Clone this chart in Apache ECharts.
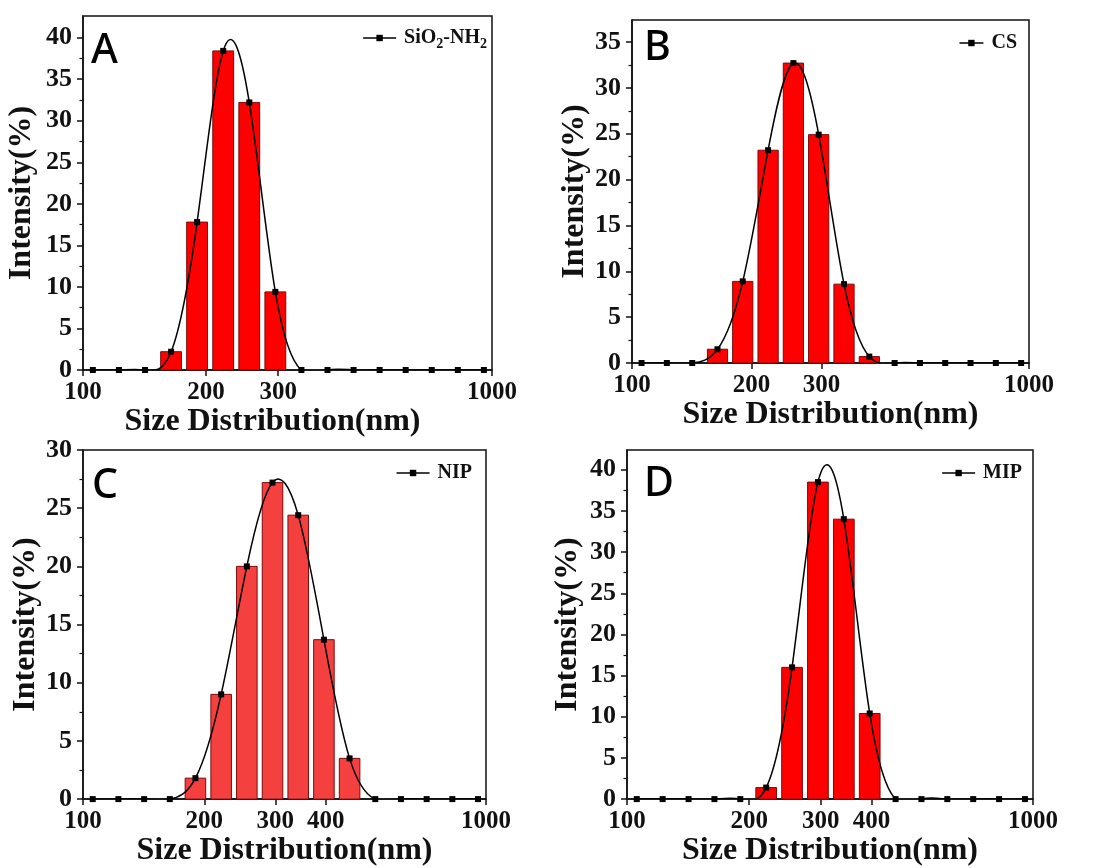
<!DOCTYPE html>
<html>
<head>
<meta charset="utf-8">
<script src="https://cdn.jsdelivr.net/npm/echarts@6/dist/echarts.min.js"></script>
<style>
  html, body { margin: 0; padding: 0; background: #fff; }
  #chart { width: 1100px; height: 868px; }
</style>
</head>
<body>
<div id="chart"></div>
<script>
// DLS size classes (nm), shared by all four samples
const sizeBins = [105.7, 122.4, 141.8, 164.2, 190.1, 220.2, 255.0, 295.3, 342.0, 396.1, 458.7, 531.2, 615.1, 712.4, 825.0, 955.4];

// Intensity (%) per size class
const intensitySiO2NH2 = [0, 0, 0, 2.2, 17.8, 38.4, 32.2, 9.4, 0, 0, 0, 0, 0, 0, 0, 0];
const intensityCS      = [0, 0, 0, 1.5, 8.9, 23.2, 32.7, 24.9, 8.6, 0.7, 0, 0, 0, 0, 0, 0];
const intensityNIP     = [0, 0, 0, 0, 1.8, 9.0, 20.0, 27.2, 24.4, 13.7, 3.5, 0, 0, 0, 0, 0];
const intensityMIP     = [0, 0, 0, 0, 0, 1.4, 16.0, 38.5, 34.0, 10.4, 0, 0, 0, 0, 0, 0];

const sampleNames  = ['SiO2-NH2', 'CS', 'NIP', 'MIP'];
const sampleLabels = ['SiO{sub|2}-NH{sub|2}', 'CS', 'NIP', 'MIP'];
const panelLetters = ['A', 'B', 'C', 'D'];

// tick labels
const xTicksAB = [100, 200, 300, 1000];
const xTicksCD = [100, 200, 300, 400, 1000];
const yTicksA = [0, 5, 10, 15, 20, 25, 30, 35, 40];
const yTicksB = [0, 5, 10, 15, 20, 25, 30, 35];
const yTicksC = [0, 5, 10, 15, 20, 25, 30];
const yTicksD = [0, 5, 10, 15, 20, 25, 30, 35, 40];

const xTitle = 'Size Distribution(nm)';
const yTitle = 'Intensity(%)';

// ---- layout & styling ----
const serif = '"Liberation Serif", "Times New Roman", serif';
const ink = '#111';
const layout = [
  { grid: { left: 83, top: 16, width: 409, height: 354 }, yMax: 42.6, yGap: 45, xNamePad: [0, 30, 0, 0],
    legend: { right: 613, top: 25 }, iconW: 33, letter: [91, 31], bar: '#ff0000' },
  { grid: { left: 632, top: 20, width: 397, height: 343 }, yMax: 37.4, yGap: 36, xNamePad: [0, 0, 0, 0],
    legend: { right: 83, top: 30 }, iconW: 24, letter: [644, 28], bar: '#ff0000' },
  { grid: { left: 83, top: 450, width: 403, height: 352 }, yMax: 30, yGap: 39, xNamePad: [0, 0, 0, 0],
    legend: { right: 628, top: 460 }, iconW: 33, letter: [92, 466], bar: '#f54040' },
  { grid: { left: 627, top: 450, width: 406, height: 352 }, yMax: 42.4, yGap: 43, xNamePad: [0, 0, 0, 0],
    legend: { right: 78, top: 460 }, iconW: 33, letter: [644, 464], bar: '#ff0000' }
];

const seriesValues = [intensitySiO2NH2, intensityCS, intensityNIP, intensityMIP];
const xTickSets = [xTicksAB, xTicksAB, xTicksCD, xTicksCD];
const yTickSets = [yTicksA, yTicksB, yTicksC, yTicksD];

// each bar spans 80% of one log-spaced class step
const halfBarRatio = Math.pow(sizeBins[1] / sizeBins[0], 0.4);

// Second derivatives of a natural cubic spline through equally spaced
// (in log size) nodes; used to shape the Bezier segments of the fit curve.
function splineSecondDerivs(y) {
  const n = y.length, M = new Array(n).fill(0);
  if (n < 3) return M;
  const c = new Array(n).fill(0), d = new Array(n).fill(0);
  for (let i = 1; i < n - 1; i++) {
    const rhs = 6 * (y[i + 1] - 2 * y[i] + y[i - 1]);
    const den = 4 - (i > 1 ? c[i - 1] : 0);
    c[i] = 1 / den;
    d[i] = (rhs - (i > 1 ? d[i - 1] : 0)) / den;
  }
  for (let i = n - 2; i >= 1; i--) M[i] = d[i] - c[i] * M[i + 1];
  return M;
}

const grids = [], xAxes = [], yAxes = [], series = [], legends = [], graphics = [];

layout.forEach(function (lay, i) {
  const values = seriesValues[i];
  const data = sizeBins.map(function (s, k) { return [s, values[k]]; });
  const M = splineSecondDerivs(values);
  const yTicks = yTickSets[i];
  const yMinor = yTicks.map(function (v) { return v + 2.5; }).filter(function (v) { return v < lay.yMax - 0.3; });

  grids.push(Object.assign({ show: true, borderColor: ink, borderWidth: 1.5, backgroundColor: 'transparent' }, lay.grid));

  const xi = xAxes.length;
  xAxes.push({
    gridIndex: i, type: 'log', logBase: 10, min: 100, max: 1000,
    axisLine: { show: true, onZero: false, lineStyle: { color: ink, width: 1.5 } },
    axisTick: { show: true, inside: false, length: 6, customValues: xTickSets[i], lineStyle: { color: ink, width: 1.5 } },
    axisLabel: {
      customValues: xTickSets[i], margin: 10, color: ink,
      fontFamily: serif, fontWeight: 'bold', fontSize: 25,
      formatter: function (v) { return String(Math.round(v)); }
    },
    splitLine: { show: false },
    name: xTitle, nameLocation: 'middle', nameGap: 33,
    nameTextStyle: { fontFamily: serif, fontWeight: 'bold', fontSize: 32, color: ink, padding: lay.xNamePad }
  });

  const yi = yAxes.length;
  yAxes.push({
    gridIndex: i, type: 'value', min: 0, max: lay.yMax, position: 'left',
    axisLine: { show: true, onZero: false, lineStyle: { color: ink, width: 1.5 } },
    axisTick: { show: true, inside: false, length: 6, customValues: yTicks, lineStyle: { color: ink, width: 1.5 } },
    axisLabel: {
      customValues: yTicks, margin: 11, color: ink,
      fontFamily: serif, fontWeight: 'bold', fontSize: 26
    },
    splitLine: { show: false },
    name: yTitle, nameLocation: 'middle', nameGap: lay.yGap,
    nameTextStyle: { fontFamily: serif, fontWeight: 'bold', fontSize: 32, color: ink }
  });
  // minor ticks halfway between labelled ticks
  yAxes.push({
    gridIndex: i, type: 'value', min: 0, max: lay.yMax, position: 'left', offset: 0,
    axisLine: { show: false },
    axisTick: { show: true, inside: false, length: 3.5, customValues: yMinor, lineStyle: { color: ink, width: 1.2 } },
    axisLabel: { show: false },
    splitLine: { show: false }
  });

  // histogram bars
  series.push({
    type: 'custom', name: sampleNames[i] + ' bars',
    xAxisIndex: xi, yAxisIndex: yi, data: data,
    encode: { x: 0, y: 1 }, z: 2,
    renderItem: function (params, api) {
      const x = api.value(0), y = api.value(1);
      if (!(y > 0)) return null;
      const p0 = api.coord([x / halfBarRatio, y]);
      const p1 = api.coord([x * halfBarRatio, 0]);
      return {
        type: 'rect',
        shape: { x: p0[0], y: p0[1], width: p1[0] - p0[0], height: p1[1] - p0[1] },
        style: { fill: lay.bar, stroke: '#7a0a0a', lineWidth: 1 }
      };
    }
  });

  // spline curve through the points, one cubic Bezier per class step
  series.push({
    type: 'custom', name: sampleNames[i] + ' spline',
    xAxisIndex: xi, yAxisIndex: yi, data: data,
    encode: { x: 0, y: 1 }, z: 3, clip: true, silent: true,
    renderItem: function (params, api) {
      const k = params.dataIndexInside;
      if (k >= params.dataInsideLength - 1) return null;
      const xa = api.value(0, k), ya = api.value(1, k);
      const xb = api.value(0, k + 1), yb = api.value(1, k + 1);
      const sa = (yb - ya) - (2 * M[k] + M[k + 1]) / 6;
      const sb = (yb - ya) + (M[k] + 2 * M[k + 1]) / 6;
      const r = xb / xa;
      const pa = api.coord([xa, ya]);
      const pb = api.coord([xb, yb]);
      const c1 = api.coord([xa * Math.pow(r, 1 / 3), ya + sa / 3]);
      const c2 = api.coord([xa * Math.pow(r, 2 / 3), yb - sb / 3]);
      return {
        type: 'bezierCurve',
        shape: { x1: pa[0], y1: pa[1], x2: pb[0], y2: pb[1], cpx1: c1[0], cpy1: c1[1], cpx2: c2[0], cpy2: c2[1] },
        style: { stroke: '#000', lineWidth: 1.5, fill: null }
      };
    }
  });

  // data markers
  series.push({
    type: 'line', name: sampleNames[i],
    xAxisIndex: xi, yAxisIndex: yi, data: data,
    symbol: 'rect', symbolSize: 6, showSymbol: true, z: 4,
    lineStyle: { color: '#000', width: 1.5, opacity: 0 },
    itemStyle: { color: '#000' }
  });

  legends.push({
    data: [sampleNames[i]], right: lay.legend.right, top: lay.legend.top,
    padding: 0, itemGap: 0, itemWidth: lay.iconW, itemHeight: 8, selectedMode: false,
    lineStyle: { color: '#000', width: 1.5, opacity: 1 },
    itemStyle: { color: '#000' },
    formatter: function () { return sampleLabels[i]; },
    textStyle: {
      fontFamily: serif, fontWeight: 'bold', fontSize: 20, color: ink, lineHeight: 26, padding: [0, 0, 0, 3],
      rich: { sub: { fontFamily: serif, fontWeight: 'bold', fontSize: 14, lineHeight: 12, verticalAlign: 'bottom', color: ink } }
    }
  });

  graphics.push({
    type: 'text', left: lay.letter[0], top: lay.letter[1], z: 10,
    style: { text: panelLetters[i], fill: '#000', font: '500 41px "Noto Sans", sans-serif' }
  });
});

const chart = echarts.init(document.getElementById('chart'), null, { renderer: 'canvas' });
chart.setOption({
  animation: false,
  backgroundColor: '#fff',
  grid: grids,
  xAxis: xAxes,
  yAxis: yAxes,
  legend: legends,
  series: series,
  graphic: graphics
});
</script>
</body>
</html>
